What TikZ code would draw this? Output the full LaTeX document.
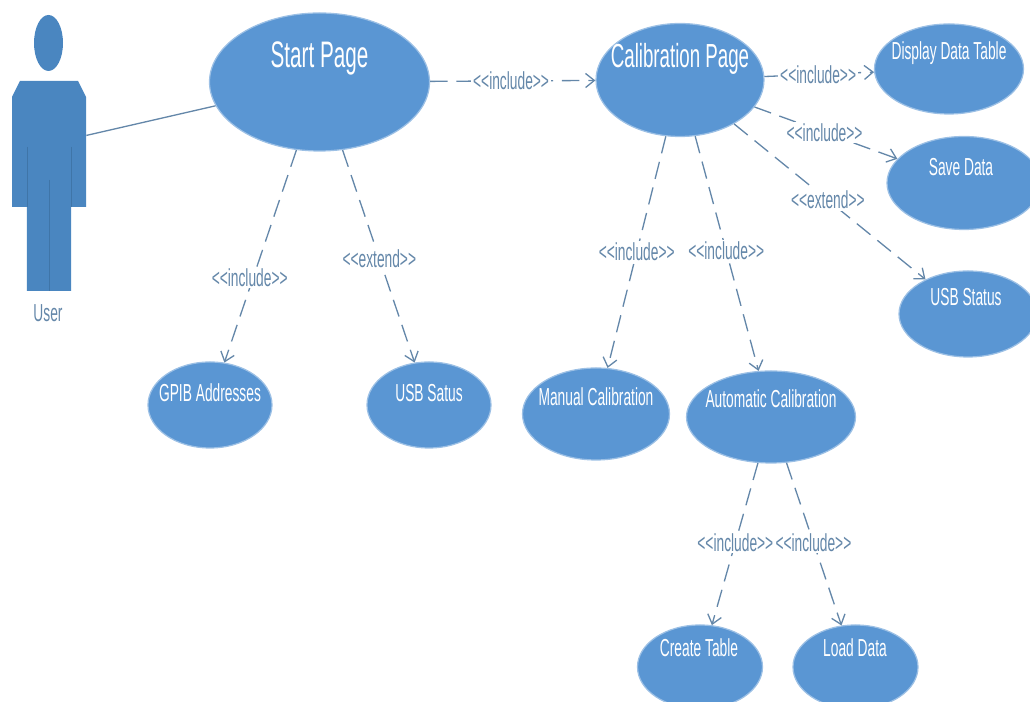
\documentclass[tikz,border=0pt]{standalone}
\usepackage{fontspec}
\setmainfont[FakeStretch=0.56]{Liberation Sans}
\usepackage{tikz}
\usetikzlibrary{arrows.meta}
\usetikzlibrary{shapes.geometric}
\definecolor{casefill}{HTML}{5A96D3}
\definecolor{actorfill}{HTML}{4A86C0}
\definecolor{actorline}{HTML}{3F75A8}
\definecolor{linkcol}{HTML}{6487A9}
\tikzset{
  usecase/.style={ellipse, fill=casefill, draw=casefill!60, line width=0.7pt, inner sep=0pt},
  casetext/.style={text=white, font=\fontsize{14}{16}\selectfont},
  linklabel/.style={fill=white, text=linkcol, inner sep=1pt, font=\fontsize{14}{16}\selectfont},
  linkline/.style={draw=linkcol, line width=0.75pt, dash pattern=on 10pt off 5pt, ->, >={Straight Barb[length=5pt,width=8pt]}}
}
\begin{document}
\begin{tikzpicture}
\useasboundingbox (0,0) rectangle (20.6,14.04);

% actor
\node (head) [ellipse, fill=actorfill, inner sep=0pt, minimum width=0.58cm, minimum height=1.12cm] at (0.97,13.18) {};
\fill[actorfill] (0.40,12.42) -- (1.56,12.42) -- (1.72,12.10) -- (1.72,9.90) -- (1.42,9.90) -- (1.42,8.22)
  -- (0.54,8.22) -- (0.54,9.90) -- (0.24,9.90) -- (0.24,12.10) -- cycle;
\draw[actorline] (0.54,11.10) -- (0.54,9.90);
\draw[actorline] (1.42,11.10) -- (1.42,9.90);
\draw[actorline] (0.98,10.44) -- (0.98,8.22);
\node (user) [minimum width=1.48cm, minimum height=2.52cm, inner sep=0pt] at (0.98,11.16) {};
\node (userlabel) [text=linkcol, font=\fontsize{14}{16}\selectfont] at (0.96,7.78) {User};

% use cases
\node (start) [usecase, minimum width=4.4cm, minimum height=2.76cm] at (6.39,12.40) {};
\node (starttext) [casetext, font=\fontsize{21}{24}\selectfont] at (6.39,12.88) {Start Page};
\node (calib) [usecase, minimum width=3.36cm, minimum height=2.26cm] at (13.6,12.44) {};
\node (calibtext) [casetext, font=\fontsize{19}{24}\selectfont] at (13.6,12.86) {Calibration Page};
\node (display) [usecase, minimum width=2.98cm, minimum height=1.8cm] at (18.98,12.66) {};
\node (displaytext) [casetext] at (18.98,12.98) {Display Data Table};
\node (save) [usecase, minimum width=3.08cm, minimum height=1.86cm] at (19.28,10.38) {};
\node (savetext) [casetext] at (19.22,10.70) {Save Data};
\node (status) [usecase, minimum width=2.76cm, minimum height=1.72cm] at (19.36,7.76) {};
\node (statustext) [casetext] at (19.32,8.10) {USB Status};
\node (gpib) [usecase, minimum width=2.48cm, minimum height=1.72cm] at (4.2,5.94) {};
\node (gpibtext) [casetext] at (4.2,6.18) {GPIB Addresses};
\node (satus) [usecase, minimum width=2.48cm, minimum height=1.72cm] at (8.58,5.94) {};
\node (satustext) [casetext] at (8.58,6.18) {USB Satus};
\node (manual) [usecase, minimum width=2.94cm, minimum height=1.84cm] at (11.92,5.76) {};
\node (manualtext) [casetext] at (11.92,6.10) {Manual Calibration};
\node (auto) [usecase, minimum width=3.38cm, minimum height=1.84cm] at (15.42,5.70) {};
\node (autotext) [casetext] at (15.42,6.06) {Automatic Calibration};
\node (create) [usecase, minimum width=2.5cm, minimum height=1.68cm] at (14.0,0.70) {};
\node (createtext) [casetext] at (13.98,1.08) {Create Table};
\node (load) [usecase, minimum width=2.5cm, minimum height=1.68cm] at (17.11,0.70) {};
\node (loadtext) [casetext] at (17.10,1.08) {Load Data};

% links
\draw[draw=linkcol, line width=0.75pt] (user) -- (start);
\draw[linkline] (start) -- (gpib) node (l1) [linklabel, pos=0.6, xshift=-2pt] {<{}<include>{}>};
\draw[linkline] (start) -- (satus) node (l2) [linklabel, pos=0.51] {<{}<extend>{}>};
\draw[linkline] (start) -- (calib) node (l3) [linklabel, pos=0.49] {<{}<include>{}>};
\draw[linkline] (calib) -- (display) node (l4) [linklabel, pos=0.49] {<{}<include>{}>};
\draw[linkline] (calib) -- (save) node (l5) [linklabel, pos=0.49] {<{}<include>{}>};
\draw[linkline] (calib) -- (status) node (l6) [linklabel, pos=0.49] {<{}<extend>{}>};
\draw[linkline] (calib) -- (manual) node (l7) [linklabel, pos=0.5] {<{}<include>{}>};
\draw[linkline] (calib) -- (auto) node (l8) [linklabel, pos=0.49] {<{}<include>{}>};
\draw[linkline] (auto) -- (create) node (l9) [linklabel, pos=0.49] {<{}<include>{}>};
\draw[linkline] (auto) -- (load) node (l10) [linklabel, pos=0.49] {<{}<include>{}>};

\end{tikzpicture}
\end{document}
